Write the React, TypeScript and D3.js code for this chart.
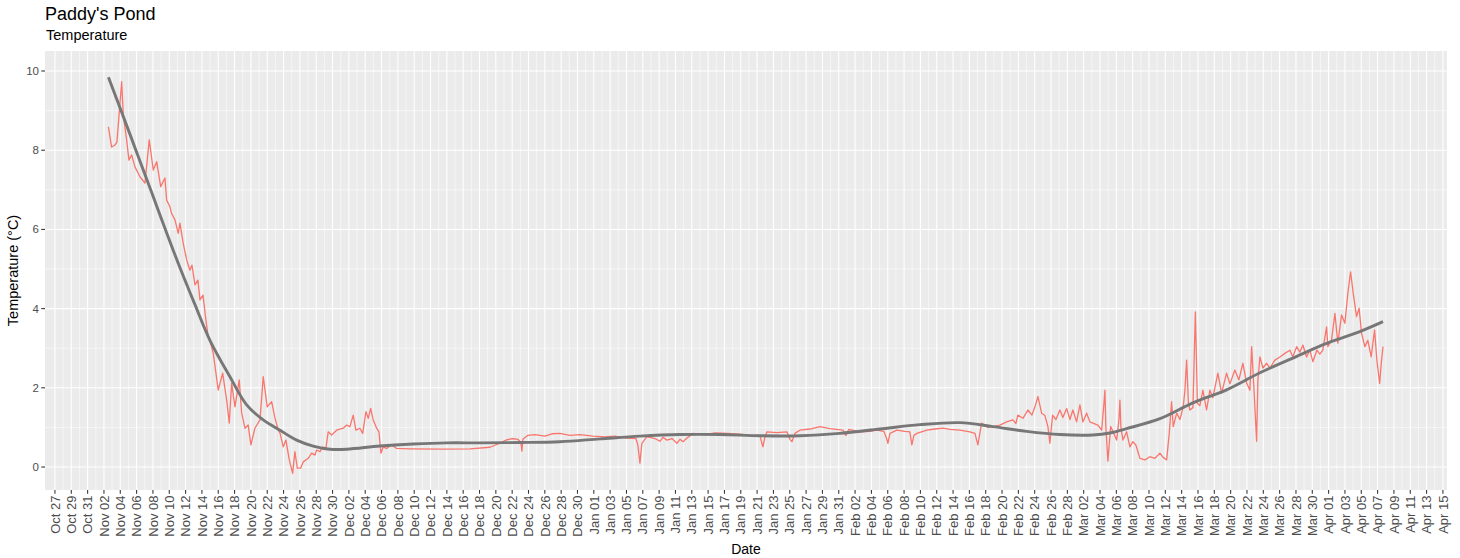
import React from "react";
import * as d3 from "d3";

// ---------- data ----------
const seasonStart = new Date(2018, 9, 27); // Oct 27 2018, first axis break
const titleText = "Paddy's Pond";
const subtitleText = "Temperature";
const yTitle = "Temperature (°C)";
const xTitle = "Date";
const yTickValues = [0, 2, 4, 6, 8, 10];
const yMinorValues = [1, 3, 5, 7, 9];
const xBreakDays = d3.range(0, 171, 2); // every 2 days Oct 27 .. Apr 15
const xMinorDays = d3.range(1, 171, 2);

// [days since Oct 27 2018, temperature °C]
const temperature: [number, number][] = [
  [6.55, 8.59], [6.94, 8.08], [7.35, 8.13], [7.59, 8.21], [8.17, 9.73], [8.37, 8.89],
  [8.78, 8.26], [9.06, 7.75], [9.39, 7.88], [9.8, 7.58], [10.41, 7.33], [11.02, 7.17],
  [11.55, 8.26], [12.04, 7.5], [12.46, 7.71], [12.95, 7.08], [13.47, 7.3], [13.68, 6.74],
  [14.08, 6.57], [14.29, 6.4], [14.7, 6.24], [15.1, 5.9], [15.31, 6.16], [15.71, 5.65],
  [16.13, 5.23], [16.53, 4.97], [16.78, 5.1], [17.15, 4.6], [17.51, 4.72], [17.76, 4.22],
  [18.13, 4.34], [18.49, 3.71], [18.74, 3.33], [18.98, 3.2], [19.39, 2.87], [20.0, 1.94],
  [20.54, 2.37], [21.03, 1.69], [21.35, 1.11], [21.64, 2.12], [22.05, 1.52], [22.57, 2.2],
  [22.87, 1.36], [23.27, 0.98], [23.67, 1.06], [24.0, 0.56], [24.49, 0.98], [25.11, 1.19],
  [25.51, 2.28], [26.0, 1.52], [26.54, 1.65], [26.94, 1.24], [27.35, 0.93], [27.56, 0.86],
  [27.96, 0.51], [28.29, 0.68], [28.7, 0.18], [29.11, -0.16], [29.39, 0.39], [29.68, -0.03],
  [30.09, -0.03], [30.41, 0.13], [31.02, 0.22], [31.44, 0.35], [31.84, 0.3], [32.05, 0.43],
  [32.46, 0.39], [32.79, 0.51], [33.19, 0.48], [33.47, 0.89], [33.89, 0.81], [34.5, 0.93],
  [35.31, 0.98], [35.73, 1.06], [36.13, 1.02], [36.53, 1.31], [36.86, 0.93], [37.35, 0.98],
  [37.69, 0.85], [38.09, 1.4], [38.37, 1.23], [38.67, 1.48], [38.98, 1.19], [39.4, 0.98],
  [39.68, 0.89], [39.93, 0.35], [40.21, 0.51], [40.62, 0.47], [41.24, 0.56], [41.85, 0.47],
  [43.48, 0.46], [47.15, 0.45], [50.83, 0.46], [53.28, 0.5], [54.5, 0.6], [55.24, 0.68],
  [55.97, 0.72], [56.7, 0.7], [57.07, 0.62], [57.19, 0.4], [57.31, 0.7], [57.93, 0.8],
  [58.79, 0.82], [60.01, 0.78], [60.87, 0.84], [61.85, 0.85], [63.07, 0.8], [64.3, 0.82],
  [65.89, 0.78], [67.36, 0.76], [68.58, 0.78], [70.06, 0.73], [71.16, 0.72], [71.4, 0.55],
  [71.65, 0.1], [71.89, 0.6], [72.5, 0.77], [73.48, 0.72], [74.1, 0.65], [74.46, 0.75],
  [74.95, 0.68], [75.57, 0.72], [76.18, 0.6], [76.55, 0.7], [76.91, 0.64], [77.53, 0.75],
  [78.14, 0.85], [79.61, 0.82], [80.83, 0.86], [82.3, 0.85], [83.89, 0.83], [85.12, 0.8],
  [86.34, 0.8], [86.59, 0.6], [86.71, 0.51], [86.96, 0.75], [87.2, 0.89], [88.43, 0.87],
  [89.65, 0.89], [90.02, 0.7], [90.26, 0.64], [90.63, 0.85], [91.24, 0.93], [92.47, 0.96],
  [93.69, 1.02], [94.92, 0.97], [96.51, 0.93], [96.88, 0.8], [97.24, 0.95], [98.59, 0.89],
  [99.82, 0.9], [100.67, 0.93], [101.53, 0.9], [101.9, 0.7], [102.02, 0.6], [102.27, 0.85],
  [103.12, 0.93], [104.1, 0.9], [104.71, 0.89], [104.96, 0.56], [105.2, 0.8], [105.57, 0.85],
  [106.79, 0.93], [107.78, 0.96], [108.76, 0.98], [109.61, 0.95], [110.84, 0.93], [112.06, 0.89],
  [112.68, 0.85], [113.04, 0.56], [113.5, 1.11], [114.27, 1.0], [114.88, 1.02], [115.74, 1.06],
  [116.56, 1.14], [117.33, 1.19], [117.7, 1.1], [117.94, 1.31], [118.56, 1.23], [119.17, 1.44],
  [119.66, 1.31], [120.03, 1.52], [120.4, 1.78], [120.85, 1.36], [121.25, 1.3], [121.62, 1.02],
  [121.86, 0.6], [122.19, 1.31], [122.6, 1.2], [123.09, 1.44], [123.45, 1.25], [123.91, 1.48],
  [124.31, 1.2], [124.68, 1.44], [125.13, 1.14], [125.54, 1.57], [125.9, 1.14], [126.36, 1.36],
  [126.76, 1.14], [127.13, 1.11], [127.74, 1.06], [128.2, 0.93], [128.48, 1.6], [128.6, 1.94],
  [128.72, 1.0], [128.97, 0.15], [129.3, 1.02], [129.58, 0.9], [130.04, 0.68], [130.32, 1.2],
  [130.44, 1.69], [130.56, 1.0], [130.81, 0.68], [131.26, 0.89], [131.66, 0.51], [132.03, 0.64],
  [132.4, 0.55], [132.89, 0.22], [133.5, 0.18], [134.11, 0.26], [134.72, 0.22], [135.34, 0.35],
  [135.7, 0.25], [136.16, 0.18], [136.48, 0.85], [136.77, 1.65], [136.97, 1.02], [137.39, 1.36],
  [137.79, 1.2], [138.19, 1.52], [138.4, 1.94], [138.61, 2.7], [138.83, 1.6], [139.01, 1.44],
  [139.38, 1.5], [139.68, 3.92], [139.93, 1.61], [140.23, 1.55], [140.6, 1.94], [141.05, 1.44],
  [141.46, 1.94], [141.82, 1.75], [142.44, 2.37], [142.89, 1.86], [143.5, 2.37], [143.91, 2.1],
  [144.52, 2.45], [145.01, 2.2], [145.5, 2.62], [145.96, 2.12], [146.36, 1.94], [146.57, 3.04],
  [146.85, 2.0], [147.18, 0.65], [147.34, 2.2], [147.59, 2.78], [147.95, 2.5], [148.41, 2.62],
  [148.81, 2.5], [149.42, 2.7], [150.03, 2.78], [150.64, 2.87], [151.26, 2.95], [151.62, 2.78],
  [152.08, 3.04], [152.48, 2.9], [152.85, 3.08], [153.3, 2.78], [153.7, 2.95], [154.07, 2.66],
  [154.56, 2.95], [154.93, 2.85], [155.29, 2.95], [155.75, 3.54], [155.91, 3.04], [156.36, 3.21],
  [156.77, 3.88], [157.13, 3.13], [157.59, 3.84], [157.99, 3.63], [158.36, 4.39], [158.69, 4.93],
  [159.01, 4.39], [159.42, 3.8], [159.74, 4.01], [160.03, 3.38], [160.44, 3.04], [160.81, 3.2],
  [161.21, 2.78], [161.63, 3.46], [161.91, 2.7], [162.25, 2.11], [162.45, 2.62], [162.66, 3.04],
];

// loess trend
const smoothTrend: [number, number][] = [
  [6.55, 9.84], [9.19, 8.4], [11.63, 7.05], [14.94, 5.23], [17.15, 4.1], [18.98, 3.2],
  [21.43, 2.28], [23.48, 1.57], [25.51, 1.19], [27.56, 0.93], [29.6, 0.68], [31.63, 0.53],
  [33.68, 0.45], [35.73, 0.45], [39.8, 0.53], [43.88, 0.58], [47.97, 0.61], [52.05, 0.61],
  [56.95, 0.62], [61.85, 0.64], [66.75, 0.71], [71.65, 0.78], [76.55, 0.82], [81.44, 0.82],
  [86.34, 0.79], [91.24, 0.79], [96.14, 0.85], [101.04, 0.96], [105.94, 1.07], [110.84, 1.12],
  [114.88, 1.02], [119.01, 0.9], [123.09, 0.82], [127.13, 0.81], [129.21, 0.86], [131.26, 0.97],
  [135.34, 1.22], [139.38, 1.62], [143.5, 1.95], [147.59, 2.38], [151.62, 2.75], [155.75, 3.12],
  [159.83, 3.42], [162.66, 3.67],
];

// ---------- layout ----------
const W = 1460;
const H = 558;
const panel = { left: 45, right: 1447, top: 51, bottom: 490 };
const FONT = "'Liberation Sans', Arial, sans-serif";

const dayToDate = (d: number) => new Date(seasonStart.getTime() + d * 86400000);

export default function App() {
  const x = d3
    .scaleTime()
    .domain([dayToDate(-1.22), dayToDate(170.5)])
    .range([panel.left, panel.right]);
  const y = d3.scaleLinear().domain([-0.58, 10.505]).range([panel.bottom, panel.top]);

  const fmt = d3.timeFormat("%b %d");
  const breaks = xBreakDays.map((d) => d3.timeDay.offset(seasonStart, d));
  const minors = xMinorDays.map((d) => d3.timeDay.offset(seasonStart, d));

  const line = d3
    .line<[number, number]>()
    .x((p) => x(dayToDate(p[0])))
    .y((p) => y(p[1]));
  const smoothLine = d3
    .line<[number, number]>()
    .x((p) => x(dayToDate(p[0])))
    .y((p) => y(p[1]))
    .curve(d3.curveCatmullRom.alpha(0.5));

  const panelW = panel.right - panel.left;
  const panelH = panel.bottom - panel.top;

  return (
    <svg
      width={W}
      height={H}
      style={{ position: "absolute", left: 0, top: 0, background: "#fff" }}
      fontFamily={FONT}
    >
      <rect x={0} y={0} width={W} height={H} fill="#fff" />
      <text x={45} y={20} fontSize={18} fill="#000">{titleText}</text>
      <text x={46} y={40} fontSize={14.5} fill="#000">{subtitleText}</text>

      {/* panel */}
      <rect x={panel.left} y={panel.top} width={panelW} height={panelH} fill="#EBEBEB" />
      <g>
        {yMinorValues.map((v) => (
          <line key={"ym" + v} x1={panel.left} x2={panel.right} y1={y(v)} y2={y(v)} stroke="#fff" strokeWidth={0.53} />
        ))}
        {minors.map((d, i) => (
          <line key={"xm" + i} x1={x(d)} x2={x(d)} y1={panel.top} y2={panel.bottom} stroke="#fff" strokeWidth={0.53} />
        ))}
        {yTickValues.map((v) => (
          <line key={"yM" + v} x1={panel.left} x2={panel.right} y1={y(v)} y2={y(v)} stroke="#fff" strokeWidth={1.07} />
        ))}
        {breaks.map((d, i) => (
          <line key={"xM" + i} x1={x(d)} x2={x(d)} y1={panel.top} y2={panel.bottom} stroke="#fff" strokeWidth={1.07} />
        ))}
      </g>

      <clipPath id="pclip">
        <rect x={panel.left} y={panel.top} width={panelW} height={panelH} />
      </clipPath>
      <g clipPath="url(#pclip)">
        <path d={line(temperature) || ""} fill="none" stroke="#F8766D" strokeWidth={1.3} strokeLinejoin="round" />
        <path d={smoothLine(smoothTrend) || ""} fill="none" stroke="#777777" strokeWidth={2.9} strokeLinecap="butt" />
      </g>

      {/* y axis */}
      {yTickValues.map((v) => (
        <g key={"yt" + v}>
          <line x1={panel.left - 3.7} x2={panel.left} y1={y(v)} y2={y(v)} stroke="#333" strokeWidth={1.07} />
          <text x={panel.left - 6} y={y(v)} dy="0.35em" textAnchor="end" fontSize={11.5} fill="#4D4D4D">
            {v}
          </text>
        </g>
      ))}

      {/* x axis */}
      {breaks.map((d, i) => (
        <g key={"xt" + i}>
          <line x1={x(d)} x2={x(d)} y1={panel.bottom} y2={panel.bottom + 3.7} stroke="#333" strokeWidth={1.07} />
          <text
            transform={`translate(${x(d)},${panel.bottom + 5.5}) rotate(-90)`}
            dy="0.36em"
            textAnchor="end"
            fontSize={13}
            fill="#4D4D4D"
          >
            {fmt(d)}
          </text>
        </g>
      ))}

      <text x={(panel.left + panel.right) / 2} y={554} textAnchor="middle" fontSize={14} fill="#000">
        {xTitle}
      </text>
      <text
        transform={`translate(18,${(panel.top + panel.bottom) / 2}) rotate(-90)`}
        textAnchor="middle"
        fontSize={14.5}
        fill="#000"
      >
        {yTitle}
      </text>
    </svg>
  );
}
